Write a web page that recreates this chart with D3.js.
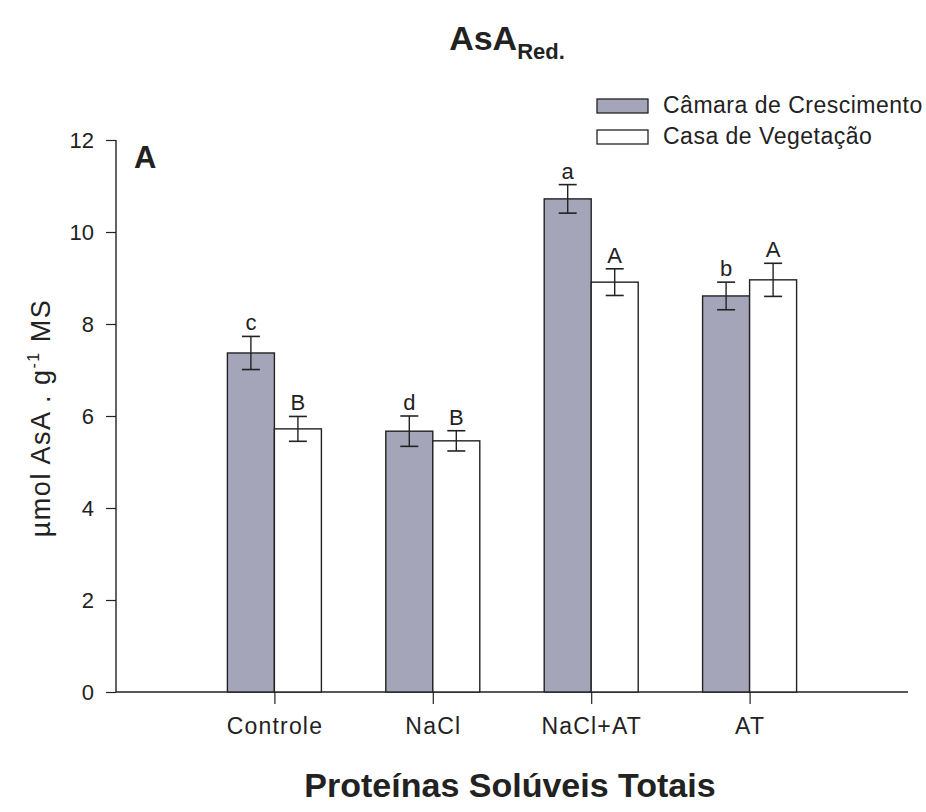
<!DOCTYPE html>
<html>
<head>
<meta charset="utf-8">
<script src="https://cdn.jsdelivr.net/npm/d3@7"></script>
<style>
  body { margin: 0; background: #fff; }
  text { font-family: "Liberation Sans", Arial, sans-serif; fill: #222; }
</style>
</head>
<body>
<div id="chart"></div>
<script>
// data
var categories = ["Controle", "NaCl", "NaCl+AT", "AT"];
var camara = [7.37, 5.67, 10.72, 8.61];
var camaraErr = [0.36, 0.33, 0.31, 0.30];
var camaraLetters = ["c", "d", "a", "b"];
var casa = [5.72, 5.46, 8.91, 8.96];
var casaErr = [0.27, 0.22, 0.29, 0.36];
var casaLetters = ["B", "B", "A", "A"];
var yTicks = [0, 2, 4, 6, 8, 10, 12];

var width = 926, height = 812;
var svg = d3.select("#chart").append("svg").attr("width", width).attr("height", height);

var x0 = 116, x1 = 908, yTop = 140, yBot = 692;
var x = d3.scalePoint().domain(["_l"].concat(categories, ["_r"])).range([x0, x1]);
var y = d3.scaleLinear().domain([0, 12]).range([yBot, yTop]);
var barW = 47;
var gray = "#a5a5b9";

// title
var t = svg.append("text").attr("x", 507).attr("y", 50).attr("text-anchor", "middle")
  .style("font-weight", "bold").style("font-size", "34px");
t.append("tspan").text("AsA");
t.append("tspan").attr("dy", 9).style("font-size", "22px").text("Red.");

// y axis
var yAxis = svg.append("g").attr("transform", "translate(" + x0 + ",0)")
  .call(d3.axisLeft(y).tickValues(yTicks).tickSize(10).tickPadding(12));
yAxis.select(".domain").attr("d", "M0," + yTop + "V" + yBot).attr("stroke", "#222").attr("stroke-width", 1.4);
yAxis.selectAll(".tick line").attr("stroke", "#222").attr("stroke-width", 1.2);
yAxis.selectAll(".tick text").style("font-size", "22px").style("font-family", "Liberation Sans, Arial, sans-serif")
  .attr("fill", "#333");

// x axis
var xAxis = svg.append("g").attr("transform", "translate(0," + yBot + ")")
  .call(d3.axisBottom(x).tickValues(categories).tickSize(12).tickPadding(14));
xAxis.select(".domain").attr("d", "M" + x0 + ",0H" + x1).attr("stroke", "#222").attr("stroke-width", 1.4);
xAxis.selectAll(".tick line").attr("stroke", "#222").attr("stroke-width", 1.2);
xAxis.selectAll(".tick text").style("font-size", "23px").style("font-family", "Liberation Sans, Arial, sans-serif")
  .style("letter-spacing", "1.2px").attr("fill", "#222");

// bars
function drawSeries(vals, errs, letters, dx, fill) {
  var g = svg.append("g");
  g.selectAll("rect").data(vals).enter().append("rect")
    .attr("x", function(d, i) { return x(categories[i]) + dx; })
    .attr("y", function(d) { return y(d); })
    .attr("width", barW)
    .attr("height", function(d) { return y(0) - y(d); })
    .attr("fill", fill).attr("stroke", "#222").attr("stroke-width", 1.4);
  vals.forEach(function(d, i) {
    var cx = x(categories[i]) + dx + barW / 2;
    var top = y(d + errs[i]), bot = y(d - errs[i]);
    g.append("line").attr("x1", cx).attr("x2", cx).attr("y1", top).attr("y2", bot).attr("stroke", "#222").attr("stroke-width", 1.4);
    g.append("line").attr("x1", cx - 9).attr("x2", cx + 9).attr("y1", top).attr("y2", top).attr("stroke", "#222").attr("stroke-width", 1.6);
    g.append("line").attr("x1", cx - 9).attr("x2", cx + 9).attr("y1", bot).attr("y2", bot).attr("stroke", "#222").attr("stroke-width", 1.6);
    g.append("text").attr("x", cx).attr("y", top - 6).attr("text-anchor", "middle")
      .style("font-size", "22px").text(letters[i]);
  });
}
drawSeries(camara, camaraErr, camaraLetters, -barW, gray);
drawSeries(casa, casaErr, casaLetters, 0, "#ffffff");

// panel letter
svg.append("text").attr("x", 134).attr("y", 168).style("font-size", "31px").style("font-weight", "bold").text("A");

// legend
var legend = [["Câmara de Crescimento", gray], ["Casa de Vegetação", "#ffffff"]];
legend.forEach(function(l, i) {
  svg.append("rect").attr("x", 597).attr("y", 99 + i * 31).attr("width", 51).attr("height", 14)
    .attr("fill", l[1]).attr("stroke", "#222").attr("stroke-width", 1.3);
  svg.append("text").attr("x", 663).attr("y", 113 + i * 31).style("font-size", "23px")
    .style("letter-spacing", "0.5px").text(l[0]);
});

// axis titles
svg.append("text").attr("transform", "translate(50,418) rotate(-90)").attr("text-anchor", "middle")
  .style("font-size", "27px").style("letter-spacing", "1.5px")
  .call(function(s) {
    s.append("tspan").text("µmol AsA . g");
    s.append("tspan").attr("dy", -11).style("font-size", "16px").text("-1");
    s.append("tspan").attr("dy", 11).text(" MS");
  });
svg.append("text").attr("x", 510).attr("y", 797).attr("text-anchor", "middle")
  .style("font-size", "34px").style("font-weight", "bold").text("Proteínas Solúveis Totais");
</script>
</body>
</html>
